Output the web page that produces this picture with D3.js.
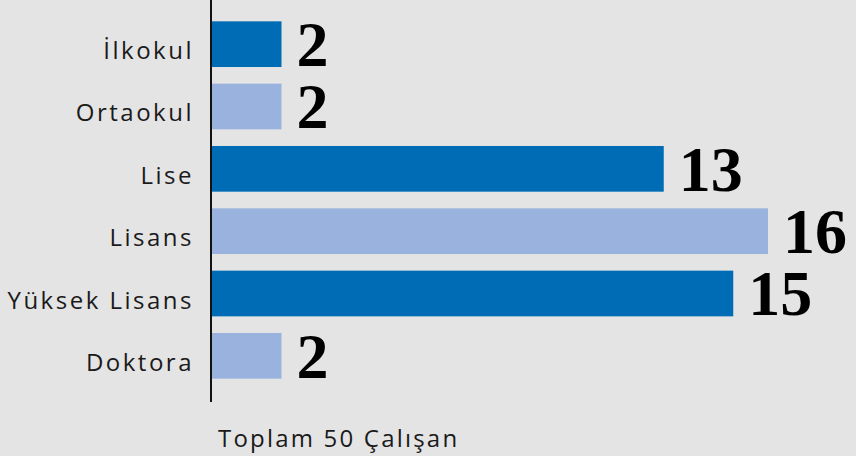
<!DOCTYPE html>
<html>
<head>
<meta charset="utf-8">
<script src="https://cdn.jsdelivr.net/npm/d3@7"></script>
<style>
  body { margin: 0; background: #e4e4e4; }
  svg { display: block; }
</style>
</head>
<body>
<svg></svg>
<script>
var categories = ["İlkokul", "Ortaokul", "Lise", "Lisans", "Yüksek Lisans", "Doktora"];
var values = [2, 2, 13, 16, 15, 2];
var footerText = "Toplam 50 Çalışan";

var width = 856;
var height = 456;
var axisX = 211;

var barColors = ["#006cb6", "#9ab3de"];

var svg = d3.select("svg")
    .attr("width", width)
    .attr("height", height);

svg.append("rect")
    .attr("width", width)
    .attr("height", height)
    .attr("fill", "#e4e4e4");

var x = d3.scaleLinear()
    .domain([0, 16])
    .range([axisX + 1, 768]);

var y = d3.scaleBand()
    .domain(categories)
    .range([0, 400])
    .paddingInner(0.267)
    .paddingOuter(0.342);

svg.selectAll(".bar")
  .data(values)
  .enter()
  .append("rect")
    .classed("bar", true)
    .attr("x", x(0))
    .attr("y", (d, i) => y(categories[i]))
    .attr("width", d => x(d) - x(0))
    .attr("height", y.bandwidth())
    .attr("fill", (d, i) => barColors[i % 2]);

svg.selectAll(".value")
  .data(values)
  .enter()
  .append("text")
    .classed("value", true)
    .attr("x", d => x(d) + 15)
    .attr("y", (d, i) => y(categories[i]) + y.bandwidth() - 1)
    .attr("font-family", "Liberation Serif, Times New Roman, serif")
    .attr("font-weight", "bold")
    .attr("font-size", 64)
    .attr("fill", "#000")
    .text(d => d);

svg.selectAll(".cat")
  .data(categories)
  .enter()
  .append("text")
    .classed("cat", true)
    .attr("x", 194)
    .attr("y", d => y(d) + y.bandwidth() / 2 + 15)
    .style("text-anchor", "end")
    .style("font-family", "'Open Sans', sans-serif")
    .style("font-size", "24px")
    .style("letter-spacing", "2.5px")
    .style("fill", "#1a1a1a")
    .text(d => d);

svg.append("line")
    .attr("x1", axisX)
    .attr("x2", axisX)
    .attr("y1", 0)
    .attr("y2", 402)
    .attr("stroke", "#111")
    .attr("stroke-width", 2);

svg.append("text")
    .attr("x", 218)
    .attr("y", 447)
    .style("font-family", "'Open Sans', sans-serif")
    .style("font-size", "24px")
    .style("letter-spacing", "2.2px")
    .style("fill", "#1a1a1a")
    .text(footerText);
</script>
</body>
</html>
